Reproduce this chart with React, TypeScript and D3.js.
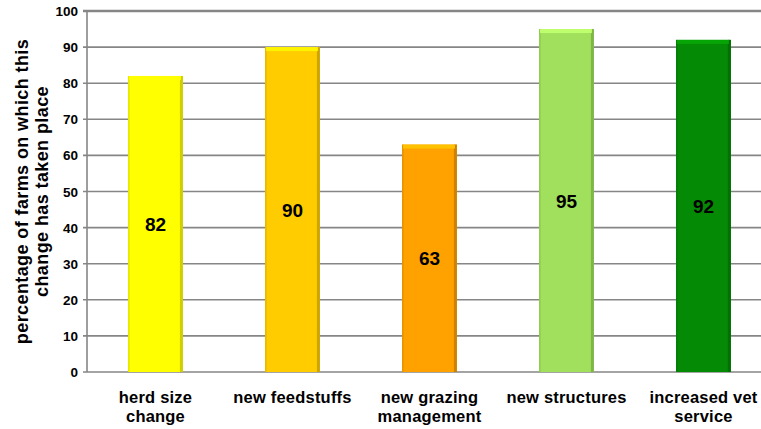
import React, { useEffect, useRef } from 'react'
import * as d3 from 'd3'

const categories = [['herd size', 'change'], ['new feedstuffs'], ['new grazing', 'management'], ['new structures'], ['increased vet', 'service']]
const values = [82, 90, 63, 95, 92]
const barColors = ['#FFFF00', '#FFCC00', '#FFA200', '#A0E05C', '#058A05']
const yTicks = [0, 10, 20, 30, 40, 50, 60, 70, 80, 90, 100]

export default function App() {
  const ref = useRef<SVGSVGElement>(null)

  useEffect(() => {
    if (!ref.current) return
    const svg = d3.select(ref.current)
    svg.selectAll('*').remove()

    const left = 87
    const right = 772
    const top = 11
    const bottom = 372
    const font = 'Liberation Sans, Arial, sans-serif'

    const x = d3.scaleBand<number>().domain(d3.range(values.length)).range([left, right]).paddingInner(0.6).paddingOuter(0.3)
    const y = d3.scaleLinear().domain([0, 100]).range([bottom, top])

    // Gridlines
    svg.append('g')
      .selectAll('line')
      .data(yTicks)
      .join('line')
      .attr('x1', left - 4)
      .attr('x2', 761)
      .attr('y1', d => y(d))
      .attr('y2', d => y(d))
      .attr('stroke', '#868686')
      .attr('stroke-width', d => (d === 100 ? 2.5 : 1.6))

    // Axis line
    svg.append('line')
      .attr('x1', left).attr('x2', left)
      .attr('y1', top).attr('y2', bottom)
      .attr('stroke', '#868686').attr('stroke-width', 1.6)

    // Tick labels
    svg.append('g')
      .selectAll('text')
      .data(yTicks)
      .join('text')
      .attr('x', left - 9)
      .attr('y', d => y(d) + 5)
      .attr('text-anchor', 'end')
      .style('font-family', font)
      .style('font-size', '13.5px')
      .style('font-weight', 'bold')
      .text(d => d)

    // Bars
    const bars = svg.append('g')
      .selectAll('g')
      .data(values)
      .join('g')

    bars.append('rect')
      .attr('x', (_, i) => x(i)!)
      .attr('y', d => y(d))
      .attr('width', x.bandwidth())
      .attr('height', d => bottom - y(d))
      .attr('fill', (_, i) => barColors[i])

    // Right edge shade
    bars.append('rect')
      .attr('x', (_, i) => x(i)! + x.bandwidth() - 3)
      .attr('y', d => y(d))
      .attr('width', 3)
      .attr('height', d => bottom - y(d))
      .attr('fill', (_, i) => d3.color(barColors[i])!.darker(0.6).toString())

    // Left edge shade
    bars.append('rect')
      .attr('x', (_, i) => x(i)!)
      .attr('y', d => y(d))
      .attr('width', 1.5)
      .attr('height', d => bottom - y(d))
      .attr('fill', (_, i) => d3.color(barColors[i])!.darker(0.3).toString())

    // Top highlight
    bars.append('rect')
      .attr('x', (_, i) => x(i)! + 1)
      .attr('y', d => y(d))
      .attr('width', x.bandwidth() - 3)
      .attr('height', 4)
      .attr('fill', (_, i) => d3.color(barColors[i])!.brighter(0.5).toString())

    // Value labels
    bars.append('text')
      .attr('x', (_, i) => x(i)! + x.bandwidth() / 2)
      .attr('y', d => (y(d) + bottom) / 2 + 7)
      .attr('text-anchor', 'middle')
      .style('font-family', font)
      .style('font-size', '19px')
      .style('font-weight', 'bold')
      .text(d => d)

    // Category labels
    const cats = svg.append('g')
      .selectAll('text')
      .data(categories)
      .join('text')
      .attr('x', (_, i) => x(i)! + x.bandwidth() / 2)
      .attr('y', 403)
      .attr('text-anchor', 'middle')
      .style('font-family', font)
      .style('font-size', '16.5px')
      .style('font-weight', 'bold')
      .style('letter-spacing', '0.2px')

    cats.selectAll('tspan')
      .data(d => d)
      .join('tspan')
      .attr('x', function () { return (this.parentNode as SVGTextElement).getAttribute('x') })
      .attr('dy', (_, j) => (j === 0 ? 0 : 19))
      .text(d => d)

    // Y title
    const title = svg.append('text')
      .attr('transform', `translate(28, ${(top + bottom) / 2}) rotate(-90)`)
      .attr('text-anchor', 'middle')
      .style('font-family', font)
      .style('font-size', '18px')
      .style('font-weight', 'bold')
      .style('letter-spacing', '0.4px')

    title.append('tspan').attr('x', 0).attr('dy', 0).text('percentage of farms on which this')
    title.append('tspan').attr('x', 0).attr('dy', 20).text('change has taken place')
  }, [])

  return (
    <svg ref={ref} width={761} height={429} style={{ position: 'absolute', left: 0, top: 0, background: '#fff' }} />
  )
}
